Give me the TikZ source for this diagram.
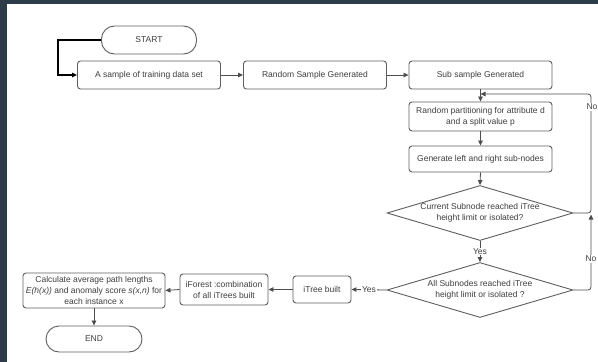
\documentclass[tikz,border=0pt]{standalone}
\usepackage{fontspec}
\setmainfont{Liberation Sans}
\usetikzlibrary{shapes.geometric,arrows.meta}
\definecolor{bgdark}{HTML}{2E3B49}
\definecolor{boxc}{HTML}{5E5E5E}
\definecolor{linec}{HTML}{4E4E4E}
\definecolor{txt}{HTML}{3E3E3E}
\begin{document}
\begin{tikzpicture}[x=1pt,y=-1pt,
 box/.style={draw=boxc, line width=0.9pt, rounded corners=3pt, fill=white, text=txt, font=\fontsize{8.5}{11}\selectfont, align=center, inner sep=1pt},
 term/.style={box, rounded corners=13pt},
 dia/.style={draw=boxc, line width=0.9pt, diamond, fill=white, inner sep=0pt},
 dtext/.style={text=txt, font=\fontsize{8.5}{11}\selectfont, align=center, inner sep=0pt},
 conn/.style={draw=linec, line width=0.8pt, -{Triangle[length=5pt,width=4.5pt]}},
 lab/.style={fill=white, text=txt, font=\fontsize{8.5}{10}\selectfont, inner sep=1pt}
]
\fill[bgdark] (0,0) rectangle (598,362);
\fill[white] (7,4) rectangle (598,362);
\useasboundingbox (0,0) rectangle (598,362);

\node[term, minimum width=95pt, minimum height=28pt] (start) at (149,40) {START};
\node[box, minimum width=143pt, minimum height=28pt] (b1) at (149,75) {A sample of training data set};
\node[box, minimum width=143pt, minimum height=28pt] (b2) at (315,75) {Random Sample Generated};
\node[box, minimum width=143pt, minimum height=28pt] (b3) at (480.5,75) {Sub sample Generated};
\node[box, minimum width=143pt, minimum height=29pt] (b4) at (480.5,116.5) {Random partitioning for attribute d\\and a split value p};
\node[box, minimum width=143pt, minimum height=26pt] (b5) at (480.5,159) {Generate left and right sub-nodes};
\node[dia, minimum width=186pt, minimum height=55pt] (d1) at (480,213) {};
\node[dtext] (t1) at (d1) {Current Subnode reached iTree\\height limit or isolated?};
\node[dia, minimum width=186pt, minimum height=55pt] (d2) at (480,290) {};
\node[dtext] (t2) at (d2) {All Subnodes reached iTree\\height limit or isolated ?};
\node[box, minimum width=58pt, minimum height=27pt] (it) at (322,289.5) {iTree built};
\node[box, minimum width=88pt, minimum height=31pt] (if) at (224,289.5) {iForest :combination\\of all iTrees built};
\node[box, minimum width=142pt, minimum height=35pt] (calc) at (94,290.5) {Calculate average path lengths\\\textit{E(h(x))} and anomaly score \textit{s(x,n)} for\\each instance x};
\node[term, minimum width=96pt, minimum height=26pt] (end) at (94,339) {END};

\coordinate (c0) at (58,40);
\coordinate (j1) at (480.5,94);
\coordinate (r1) at (591,213);
\coordinate (r2) at (591,94);
\coordinate (r3) at (591,290);
\coordinate (j2) at (591,214.5);

\draw[line width=1.4pt, black, -{Triangle[length=5pt,width=4.5pt]}] (start.west) -- (c0) |- (b1.west);
\draw[conn] (b1.east) -- (b2.west);
\draw[conn] (b2.east) -- (b3.west);
\draw[conn] (b3.south) -- (b4.north);
\draw[conn] (b4.south) -- (b5.north);
\draw[conn] (b5.south) -- (d1.north);
\draw[conn] (d1.south) -- node[lab] (y1) {Yes} (d2.north);
\draw[conn] (d2.west) -- node[lab] (y2) {Yes} (it.east);
\draw[conn] (it.west) -- (if.east);
\draw[conn] (if.west) -- (calc.east);
\draw[conn] (calc.south) -- (end.north);
\draw[conn, rounded corners=3pt] (d1.east) -- (r1) -- (r2) -- (j1);
\draw[conn, rounded corners=3pt] (d2.east) -- (r3) -- (j2);
\node[lab] (n1) at (592,107) {No};
\node[lab] (n2) at (591,259) {No};
\end{tikzpicture}
\end{document}
